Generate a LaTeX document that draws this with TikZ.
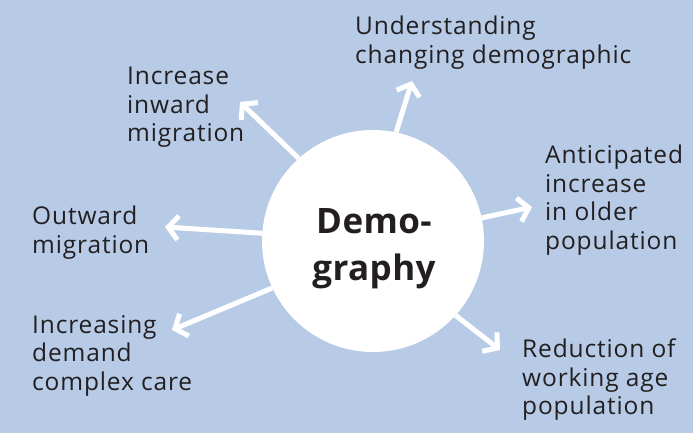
\documentclass[tikz,border=0pt]{standalone}
\usepackage{fontspec}
\setmainfont{Open Sans}
\newfontfamily\lblfont{Open Sans}[LetterSpace=3.5]
\newfontfamily\hubfont{Open Sans}[LetterSpace=1.2]
\usetikzlibrary{arrows.meta}
\definecolor{bg}{HTML}{B7CBE7}
\definecolor{txt}{HTML}{231F20}
\tikzset{
  lbl/.style={font=\lblfont\fontsize{24.5}{28.5}\selectfont, align=left, anchor=north west, inner sep=0pt, text=txt},
  arr/.style={draw=white, line width=5pt, line join=miter, -{Straight Barb[length=10pt,width=24pt]}},
  hub/.style={circle, fill=white, minimum size=222pt, inner sep=0pt}
}
\begin{document}
\begin{tikzpicture}[x=1pt,y=-1pt]
\fill[bg] (0,0) rectangle (693,433);
\useasboundingbox (0,0) rectangle (693,433);
\node[hub] (c) at (373,241) {};
\node[font=\hubfont\fontsize{35}{47}\selectfont\bfseries, align=center, text=txt, inner sep=0pt] (ct) at (374,249) {Demo-\\graphy};

\node[lbl] (l1) at (127,67) {Increase\\inward\\migration};
\node[lbl] (l2) at (355,16) {Understanding\\changing demographic};
\node[lbl] (l3) at (545,145) {Anticipated\\increase\\in older\\population};
\node[lbl] (l4) at (32,206) {Outward\\migration};
\node[lbl] (l5) at (32,315) {Increasing\\demand\\complex care};
\node[lbl] (l6) at (522,339) {Reduction of\\working age\\population};

\coordinate (t1) at (240,102);
\coordinate (t2) at (412,81);
\coordinate (t3) at (165,227);
\coordinate (t4) at (172,330);
\coordinate (t5) at (532,207);
\coordinate (t6) at (500,350);

\draw[arr] (c.132) -- (t1);
\draw[arr] (c.78) -- (t2);
\draw[arr] (c.176) -- (t3);
\draw[arr] (c.205) -- (t4);
\draw[arr] (c.12) -- (t5);
\draw[arr] (c.-42) -- (t6);
\end{tikzpicture}
\end{document}
